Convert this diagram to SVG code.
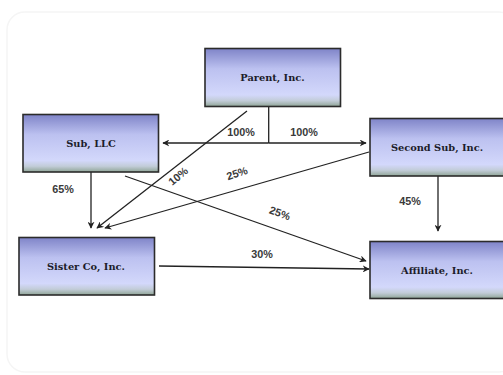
<svg xmlns="http://www.w3.org/2000/svg" width="503" height="375" viewBox="0 0 503 375">
<defs>
<linearGradient id="boxg" x1="0" y1="0" x2="0" y2="1">
<stop offset="0" stop-color="#7f84c8"/>
<stop offset="0.35" stop-color="#bcc1f0"/>
<stop offset="0.8" stop-color="#d3d8fb"/>
<stop offset="0.9" stop-color="#c2ccd8"/>
<stop offset="1" stop-color="#8fa596"/>
</linearGradient>
<marker id="arr" viewBox="0 0 10 10" refX="9" refY="5" markerWidth="7" markerHeight="7" markerUnits="userSpaceOnUse" orient="auto">
<path d="M0,0 L10,5 L0,10 L3,5 Z" fill="#222"/>
</marker>
</defs>
<style>
.box{fill:url(#boxg);stroke:#2b2b2b;stroke-width:1.6}
.nt{font-family:"DejaVu Serif","Liberation Serif",serif;font-weight:bold;font-size:9.8px;fill:#1c1c2a;text-anchor:middle}
.pl{font-family:"Liberation Sans",Arial,sans-serif;font-weight:bold;font-size:10.8px;fill:#3a3a3a;text-anchor:middle}
.c{stroke:#222;stroke-width:1.3;fill:none}
.ca{stroke:#222;stroke-width:1.3;fill:none;marker-end:url(#arr)}
</style>
<rect x="0" y="0" width="503" height="375" fill="#ffffff"/>
<rect x="7" y="12" width="510" height="360" rx="18" fill="none" stroke="#f5f5f5" stroke-width="1.5"/>
<g id="connectors">
<line class="c" x1="268.7" y1="107" x2="268.7" y2="143"/>
<line class="ca" x1="268.7" y1="143" x2="163" y2="143"/>
<line class="ca" x1="268.7" y1="143" x2="366" y2="143"/>
<line class="ca" x1="247" y1="111" x2="97" y2="228"/>
<line class="ca" x1="91" y1="172" x2="91" y2="228"/>
<line class="ca" x1="369" y1="152" x2="105" y2="228"/>
<line class="ca" x1="125" y1="176" x2="366" y2="261"/>
<line class="ca" x1="159" y1="266" x2="369" y2="269"/>
<line class="ca" x1="438" y1="176" x2="438" y2="231"/>
<text class="pl" x="241" y="136">100%</text>
<text class="pl" x="304" y="136">100%</text>
<text class="pl" x="63" y="193">65%</text>
<text class="pl" x="178" y="180" transform="rotate(-40 178 176)">10%</text>
<text class="pl" x="237" y="177" transform="rotate(-18 237 173)">25%</text>
<text class="pl" x="280" y="217" transform="rotate(20 280 213)">25%</text>
<text class="pl" x="410" y="205">45%</text>
<text class="pl" x="262" y="258">30%</text>
</g>
<g id="parent">
<rect class="box" x="205" y="48.5" width="135.5" height="58"/>
<text class="nt" x="272.5" y="81">Parent, Inc.</text>
</g>
<g id="sub-llc">
<rect class="box" x="23" y="114.5" width="135.5" height="57.5"/>
<text class="nt" x="91" y="147">Sub, LLC</text>
</g>
<g id="second-sub">
<rect class="box" x="370" y="118.5" width="136" height="57.5"/>
<text class="nt" x="437" y="151">Second Sub, Inc.</text>
</g>
<g id="sister-co">
<rect class="box" x="19" y="237.5" width="135.5" height="57.5"/>
<text class="nt" x="86" y="270">Sister Co, Inc.</text>
</g>
<g id="affiliate">
<rect class="box" x="370" y="241.5" width="136" height="57"/>
<text class="nt" x="437" y="274">Affiliate, Inc.</text>
</g>
</svg>
